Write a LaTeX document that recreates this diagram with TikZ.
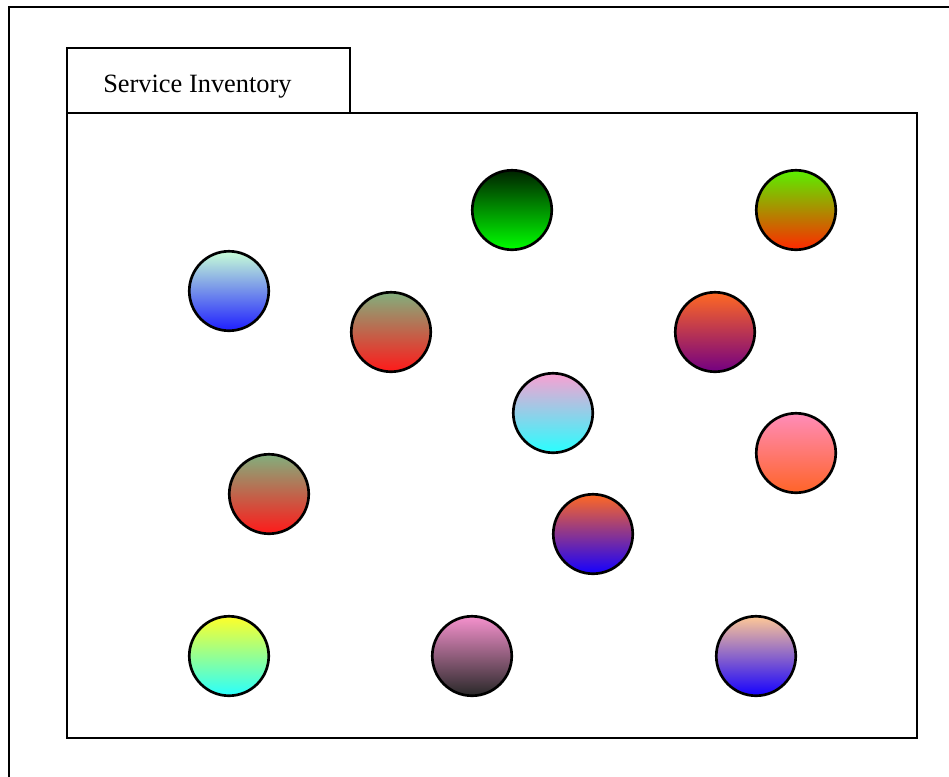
\documentclass[tikz,border=0pt]{standalone}
\usepackage{fontspec}
\setmainfont{Liberation Serif}
\begin{document}
\begin{tikzpicture}[x=0.75pt,y=-0.75pt,
  frame/.style={draw=black,line width=2.2pt},
  ball/.style={circle,draw=black,line width=2pt,minimum size=59.6pt,inner sep=0pt}]
\definecolor{c1t}{RGB}{0,35,0}\definecolor{c1m}{RGB}{0,195,0}\definecolor{c1b}{RGB}{0,255,0}
\definecolor{c2t}{RGB}{90,240,0}\definecolor{c2m}{RGB}{205,210,0}\definecolor{c2b}{RGB}{255,40,0}
\definecolor{c3t}{RGB}{200,255,215}\definecolor{c3m}{RGB}{150,180,240}\definecolor{c3b}{RGB}{30,30,255}
\definecolor{c4t}{RGB}{130,175,125}\definecolor{c4m}{RGB}{220,130,90}\definecolor{c4b}{RGB}{255,25,25}
\definecolor{c5t}{RGB}{255,105,35}\definecolor{c5m}{RGB}{200,70,100}\definecolor{c5b}{RGB}{115,0,130}
\definecolor{c6t}{RGB}{250,160,210}\definecolor{c6m}{RGB}{190,210,230}\definecolor{c6b}{RGB}{40,255,255}
\definecolor{c7t}{RGB}{255,140,185}\definecolor{c7m}{RGB}{255,125,130}\definecolor{c7b}{RGB}{255,100,40}
\definecolor{c9t}{RGB}{255,105,35}\definecolor{c9m}{RGB}{180,60,200}\definecolor{c9b}{RGB}{20,0,255}
\definecolor{c10t}{RGB}{255,255,40}\definecolor{c10m}{RGB}{170,255,150}\definecolor{c10b}{RGB}{40,255,255}
\definecolor{c11t}{RGB}{245,145,205}\definecolor{c11m}{RGB}{190,115,160}\definecolor{c11b}{RGB}{40,40,40}
\definecolor{c12t}{RGB}{255,200,150}\definecolor{c12m}{RGB}{175,145,225}\definecolor{c12b}{RGB}{20,0,255}
\useasboundingbox (0,0) rectangle (949,776);
\fill[white] (0,0) rectangle (949,776);
% outer frame (continues beyond the picture)
\draw[frame] (9,800) -- (9,7) -- (980,7);
% tab and main box
\draw[frame] (67,113) rectangle (917,738);
\node[frame,minimum width=212.25pt,minimum height=48.75pt,inner sep=0pt] (tab) at (208.5,80.5) {};
\node[anchor=base west,inner sep=0pt,font=\fontsize{19.8}{22}\selectfont] (lbl) at (103,92) {Service Inventory};
% services
\node[ball,top color=c1t,middle color=c1m,bottom color=c1b] (b1) at (512,210) {};
\node[ball,top color=c2t,middle color=c2m,bottom color=c2b] (b2) at (796,210) {};
\node[ball,top color=c3t,middle color=c3m,bottom color=c3b] (b3) at (229,291) {};
\node[ball,top color=c4t,middle color=c4m,bottom color=c4b] (b4) at (391,332) {};
\node[ball,top color=c5t,middle color=c5m,bottom color=c5b] (b5) at (715,332) {};
\node[ball,top color=c6t,middle color=c6m,bottom color=c6b] (b6) at (553,413) {};
\node[ball,top color=c7t,middle color=c7m,bottom color=c7b] (b7) at (796,453) {};
\node[ball,top color=c4t,middle color=c4m,bottom color=c4b] (b8) at (269,494) {};
\node[ball,top color=c9t,middle color=c9m,bottom color=c9b] (b9) at (593,534) {};
\node[ball,top color=c10t,middle color=c10m,bottom color=c10b] (b10) at (229,656) {};
\node[ball,top color=c11t,middle color=c11m,bottom color=c11b] (b11) at (472,656) {};
\node[ball,top color=c12t,middle color=c12m,bottom color=c12b] (b12) at (756,656) {};
\end{tikzpicture}
\end{document}
